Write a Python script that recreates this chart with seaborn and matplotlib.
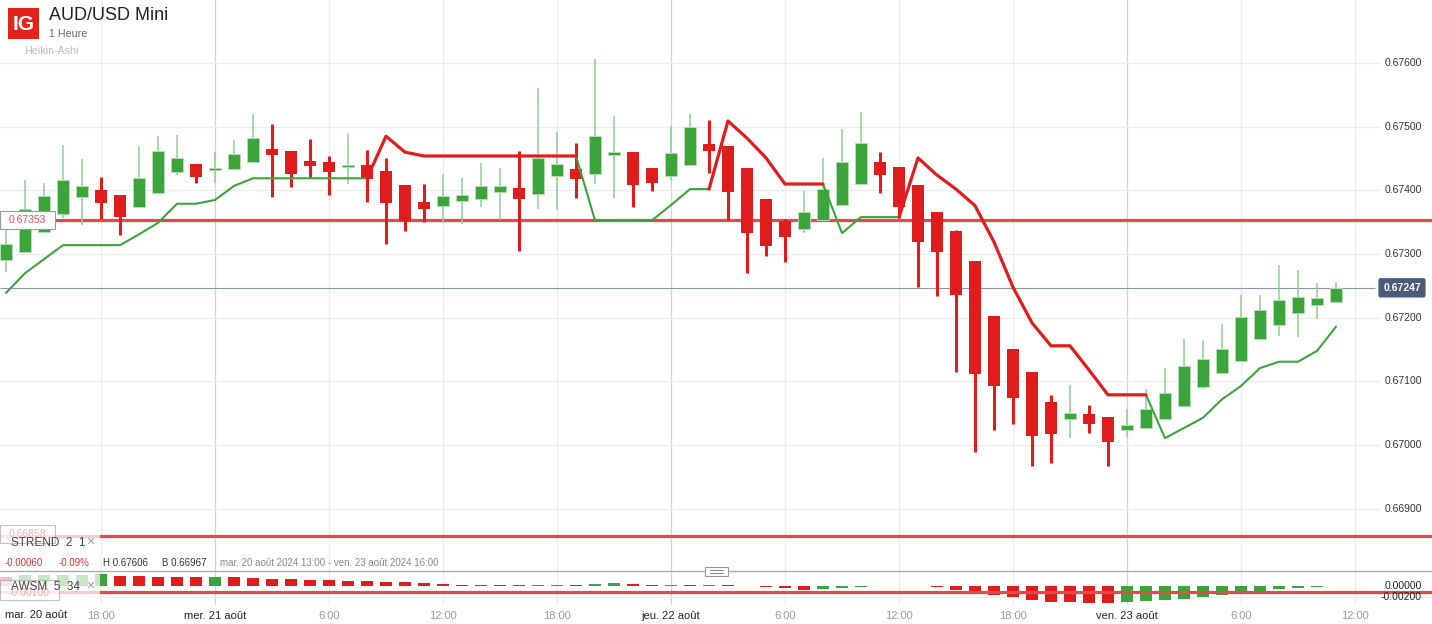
#AUD/USD Mini 1h Heikin-Ashi chart with SuperTrend and Awesome Oscillator
import matplotlib
matplotlib.use("Agg")
import matplotlib.pyplot as plt
import matplotlib.transforms as mtransforms
from matplotlib.patches import Rectangle
import numpy as np
import pandas as pd
import seaborn as sns

#Heikin-Ashi candles, one per hour from mar. 20 août 13:00
ha_open = [0.67291, 0.67303, 0.67335, 0.67363, 0.67390, 0.67401, 0.67393, 0.67374, 0.67396, 0.67429,
           0.67441, 0.67432, 0.67434, 0.67445, 0.67465, 0.67462, 0.67446, 0.67445, 0.67437, 0.67440,
           0.67430, 0.67408, 0.67382, 0.67376, 0.67383, 0.67386, 0.67397, 0.67404, 0.67394, 0.67423,
           0.67434, 0.67426, 0.67456, 0.67460, 0.67435, 0.67423, 0.67440, 0.67473, 0.67470, 0.67435,
           0.67386, 0.67352, 0.67339, 0.67353, 0.67377, 0.67410, 0.67445, 0.67437, 0.67408, 0.67366,
           0.67336, 0.67289, 0.67203, 0.67151, 0.67115, 0.67068, 0.67041, 0.67049, 0.67044, 0.67024,
           0.67027, 0.67041, 0.67061, 0.67091, 0.67113, 0.67132, 0.67167, 0.67189, 0.67208, 0.67220,
           0.67225]
ha_high = [0.67338, 0.67416, 0.67412, 0.67471, 0.67449, 0.67421, 0.67393, 0.67470, 0.67485, 0.67487,
           0.67441, 0.67460, 0.67479, 0.67520, 0.67504, 0.67462, 0.67481, 0.67454, 0.67490, 0.67463,
           0.67451, 0.67408, 0.67410, 0.67426, 0.67419, 0.67443, 0.67435, 0.67462, 0.67561, 0.67492,
           0.67474, 0.67606, 0.67517, 0.67460, 0.67435, 0.67501, 0.67520, 0.67510, 0.67470, 0.67435,
           0.67386, 0.67355, 0.67399, 0.67451, 0.67496, 0.67523, 0.67460, 0.67437, 0.67408, 0.67366,
           0.67338, 0.67289, 0.67203, 0.67151, 0.67115, 0.67079, 0.67094, 0.67063, 0.67044, 0.67057,
           0.67088, 0.67121, 0.67167, 0.67165, 0.67190, 0.67236, 0.67236, 0.67283, 0.67275, 0.67255,
           0.67256]
ha_low = [0.67272, 0.67303, 0.67335, 0.67357, 0.67346, 0.67355, 0.67330, 0.67374, 0.67396, 0.67424,
          0.67412, 0.67412, 0.67434, 0.67445, 0.67390, 0.67405, 0.67421, 0.67393, 0.67410, 0.67382,
          0.67316, 0.67336, 0.67350, 0.67349, 0.67347, 0.67374, 0.67353, 0.67305, 0.67371, 0.67369,
          0.67388, 0.67410, 0.67388, 0.67374, 0.67399, 0.67416, 0.67440, 0.67427, 0.67353, 0.67270,
          0.67297, 0.67288, 0.67333, 0.67353, 0.67377, 0.67410, 0.67396, 0.67357, 0.67248, 0.67234,
          0.67115, 0.66989, 0.67024, 0.67033, 0.66967, 0.66972, 0.67011, 0.67019, 0.66967, 0.67013,
          0.67027, 0.67041, 0.67061, 0.67088, 0.67113, 0.67132, 0.67167, 0.67171, 0.67170, 0.67198,
          0.67225]
ha_close = [0.67316, 0.67371, 0.67391, 0.67416, 0.67407, 0.67380, 0.67358, 0.67419, 0.67462, 0.67451,
            0.67421, 0.67435, 0.67457, 0.67482, 0.67456, 0.67426, 0.67438, 0.67429, 0.67438, 0.67418,
            0.67380, 0.67352, 0.67371, 0.67391, 0.67393, 0.67407, 0.67407, 0.67386, 0.67451, 0.67441,
            0.67418, 0.67485, 0.67460, 0.67408, 0.67412, 0.67459, 0.67500, 0.67462, 0.67397, 0.67333,
            0.67313, 0.67327, 0.67366, 0.67402, 0.67445, 0.67474, 0.67424, 0.67374, 0.67319, 0.67303,
            0.67236, 0.67112, 0.67093, 0.67074, 0.67014, 0.67017, 0.67050, 0.67033, 0.67005, 0.67032,
            0.67057, 0.67082, 0.67124, 0.67135, 0.67151, 0.67201, 0.67212, 0.67228, 0.67233, 0.67231,
            0.67247]

#SuperTrend (2, 1) value and trend side per candle
strend = [0.67239, 0.67270, 0.67292, 0.67314, 0.67314, 0.67314, 0.67314, 0.67331, 0.67349, 0.67379,
          0.67379, 0.67385, 0.67407, 0.67419, 0.67419, 0.67419, 0.67419, 0.67419, 0.67419, 0.67419,
          0.67485, 0.67460, 0.67454, 0.67454, 0.67454, 0.67454, 0.67454, 0.67454, 0.67454, 0.67454,
          0.67454, 0.67353, 0.67353, 0.67353, 0.67353, 0.67377, 0.67402, 0.67402, 0.67509, 0.67482,
          0.67451, 0.67410, 0.67410, 0.67410, 0.67333, 0.67358, 0.67358, 0.67358, 0.67451, 0.67424,
          0.67402, 0.67376, 0.67319, 0.67248, 0.67192, 0.67156, 0.67156, 0.67118, 0.67079, 0.67079,
          0.67079, 0.67011, 0.67027, 0.67043, 0.67072, 0.67093, 0.67121, 0.67131, 0.67131, 0.67148,
          0.67186]
strend_side = ("GGGGGGGGGGGGGGGGGGGG" "RRRRRRRRRRR" "GGGGGGG" "RRRRRR"
               "GGGG" "RRRRRRRRRRRRR" "GGGGGGGGGG")

#Awesome oscillator (5, 34)
awsm = [0.00170, 0.00200, 0.00204, 0.00207, 0.00209, 0.00211, 0.00190, 0.00188, 0.00170, 0.00168,
        0.00165, 0.00166, 0.00155, 0.00145, 0.00136, 0.00127, 0.00118, 0.00109, 0.00100, 0.00091,
        0.00073, 0.00064, 0.00051, 0.00040, 0.00027, 0.00022, 0.00018, 0.00015, 0.00017, 0.00020,
        0.00015, 0.00035, 0.00050, 0.00035, 0.00020, 0.00025, 0.00018, 0.00022, 0.00012, 0.00005,
        -0.00010, -0.00040, -0.00070, -0.00060, -0.00040, -0.00020, -0.00005, 0.00003, -0.00002, -0.00025,
        -0.00080, -0.00120, -0.00160, -0.00200, -0.00255, -0.00290, -0.00295, -0.00300, -0.00305, -0.00295,
        -0.00275, -0.00250, -0.00230, -0.00200, -0.00165, -0.00130, -0.00105, -0.00060, -0.00040, -0.00015,
        -0.00005]

#Levels and axis labels
level_hi = 0.67353
level_lo = 0.66858
awsm_level = -0.00100
last_price = 0.67247
price_ticks = [0.66900, 0.67000, 0.67100, 0.67200, 0.67300, 0.67400, 0.67500, 0.67600]
awsm_ticks = [0.0, -0.002]
start = "2024-08-20 13:00"
jours = ["lun.", "mar.", "mer.", "jeu.", "ven.", "sam.", "dim."]

#Style
sns.set_theme(style="white")
plt.rcParams['font.family'] = ['Liberation Sans', 'DejaVu Sans']
GREEN = '#3ba53b'
RED = '#e01d1d'
LINE_RED = '#e34b4b'

W, H = 1432, 624
def fx(px):
    return px / W
def fy(py):
    return 1 - py / H

fig = plt.figure(figsize=(W / 100, H / 100), dpi=100)
fig.patch.set_facecolor('white')
ax = fig.add_axes([0, fy(571), 1, 571 / H])
ax2 = fig.add_axes([0, fy(605), 1, 34 / H], sharex=ax)

o = np.array(ha_open); c = np.array(ha_close)
hi = np.array(ha_high); lo = np.array(ha_low)
x = np.arange(len(o))
up = c >= o

x_left, x_right = -6 / 19, (W - 6) / 19
grid_end = (1380 - 6) / 19

#Time grid
hours = pd.date_range(start, periods=76, freq="h")
tick_pos, tick_lab, tick_day = [], [], []
for i, h in enumerate(hours):
    if i > 0 and h.hour % 6 == 0:
        tick_pos.append(i)
        if h.hour == 0:
            tick_lab.append(f"{jours[h.dayofweek]} {h.day} août")
            tick_day.append(True)
        else:
            tick_lab.append(f"{h.hour}:00")
            tick_day.append(False)
for a in (ax, ax2):
    for t, d in zip(tick_pos, tick_day):
        a.axvline(t, color='#d2d2d2' if d else '#ececec', lw=0.9, zorder=0)

#Price grid
ax.hlines(price_ticks, x_left, grid_end, color='#ececec', lw=0.9, zorder=0)

#Levels
ax.hlines([level_hi, level_lo], x_left, x_right, color=LINE_RED, lw=2.3, zorder=2)
ax.hlines(last_price, x_left, (1375 - 6) / 19, color='#8e97a8', lw=0.8, zorder=2)

#Candles
ax.vlines(x[up], lo[up], hi[up], color='#8fd08f', lw=1.1, zorder=3)
ax.vlines(x[~up], lo[~up], hi[~up], color=RED, lw=2.2, zorder=3)
body_bot = np.minimum(o, c)
body_h = np.maximum(np.abs(c - o), 0.00003)
ax.bar(x[up], body_h[up], bottom=body_bot[up], width=0.68, color=GREEN,
       edgecolor='#b4deb4', linewidth=0.7, zorder=4)
ax.bar(x[~up], body_h[~up], bottom=body_bot[~up], width=0.68, color=RED,
       linewidth=0, zorder=4)

#SuperTrend line, one run per trend side
rows = []
seg = 0
for i in range(len(strend)):
    if i > 0 and strend_side[i] != strend_side[i - 1]:
        seg += 1
        rows.append((i - 1, strend[i - 1], strend_side[i], seg))
    rows.append((i, strend[i], strend_side[i], seg))
st_df = pd.DataFrame(rows, columns=['i', 'st', 'side', 'seg'])
sns.lineplot(data=st_df, x='i', y='st', hue='side', size='side', units='seg',
             estimator=None, sort=False, legend=False, ax=ax,
             palette={'G': GREEN, 'R': RED}, sizes={'G': 1.5, 'R': 2.3}, zorder=5)
ax.set_xlabel(''); ax.set_ylabel('')

ax.set_xlim(x_left, x_right)
ax.set_ylim(0.676989 - 571 * 0.0000157, 0.676989)
ax.set_yticks([])
ax.tick_params(bottom=False, labelbottom=False, top=False, labeltop=False, left=False)
for s in ax.spines.values():
    s.set_visible(False)

ytrans = mtransforms.blended_transform_factory(ax.transAxes, ax.transData)
for p in price_ticks:
    ax.text(fx(1422), p, f"{p:.5f}", transform=ytrans, ha='right', va='center',
            fontsize=7.5, color='#333333', zorder=6)
ax.text(fx(1402), last_price, f"{last_price:.5f}", transform=ytrans, ha='center', va='center',
        fontsize=7.5, color='white', fontweight='bold', zorder=7,
        bbox=dict(boxstyle='round,pad=0.45,rounding_size=0.2', fc='#4a5a79', ec='none'))

#Awesome oscillator panel
ao = np.array(awsm)
ao_col = [RED if i == 0 or ao[i] <= ao[i - 1] else GREEN for i in range(len(ao))]
ax2.axhline(-0.002, color='#ececec', lw=0.9, zorder=0)
ax2.bar(x, ao, width=0.68, color=ao_col, linewidth=0, zorder=3)
ax2.axhline(awsm_level, color=LINE_RED, lw=2.3, zorder=4)
ax2.set_ylim(-19 / 5.5 * 0.001, 15 / 5.5 * 0.001)
ax2.set_yticks([])
for name, s in ax2.spines.items():
    s.set_visible(name == 'top')
ax2.spines['top'].set_color('#aaaaaa')
ax2.spines['top'].set_linewidth(1.0)
ytrans2 = mtransforms.blended_transform_factory(ax2.transAxes, ax2.transData)
for v in awsm_ticks:
    ax2.text(fx(1422), v, f"{v:.5f}", transform=ytrans2, ha='right', va='center',
             fontsize=7.5, color='#222222', zorder=6)

ax2.set_xticks(tick_pos)
ax2.set_xticklabels(tick_lab, fontsize=8)
ax2.xaxis.set_ticks_position('bottom')
ax2.tick_params(axis='x', length=0, pad=4, labelbottom=True, labeltop=False)
for lab, d in zip(ax2.get_xticklabels(), tick_day):
    lab.set_color('#222222' if d else '#999999')
ax2.set_xlim(x_left, x_right)
fig.text(fx(5), fy(609.5), f"{jours[hours[0].dayofweek]} {hours[0].day} août", ha='left', va='top',
         fontsize=8, color='#222222')

#Header
fig.add_artist(Rectangle((fx(8), fy(39)), fx(31), 31 / H, transform=fig.transFigure,
                         fc='#e2231a', ec='none', zorder=10))
fig.text(fx(23.5), fy(24), "IG", ha='center', va='center', fontsize=15, color='white',
         fontweight='bold', zorder=11)
fig.text(fx(49), fy(16), "AUD/USD Mini", ha='left', va='center', fontsize=13, color='#222222')
fig.text(fx(49), fy(34), "1 Heure", ha='left', va='center', fontsize=7.7, color='#666666')
fig.text(fx(24), fy(51), "Heikin-Ashi", ha='left', va='center', fontsize=7.7, color='#bbbbbb')

#Level tags on the left
fig.add_artist(Rectangle((0, fy(229)), fx(55), 18 / H, transform=fig.transFigure,
                         fc='white', ec='#9a9a9a', lw=0.8, zorder=10))
fig.text(fx(27.5), fy(220), f"{level_hi:.5f}", ha='center', va='center', fontsize=7.5,
         color='#d85555', zorder=11)

#Legend rows with translucent backing
fig.add_artist(Rectangle((0, fy(549)), fx(100), 24 / H, transform=fig.transFigure,
                         fc='white', alpha=0.72, ec='none', zorder=10))
fig.add_artist(Rectangle((0, fy(543)), fx(55), 18 / H, transform=fig.transFigure,
                         fc='white', alpha=0.6, ec='#9a9a9a', lw=0.8, zorder=11))
fig.text(fx(27.5), fy(534), f"{level_lo:.5f}", ha='center', va='center', fontsize=7.5,
         color='#f3b0b0', zorder=12)
fig.text(fx(11), fy(543), "STREND  2  1", ha='left', va='center', fontsize=8.5,
         color='#444444', zorder=13)
fig.text(fx(86), fy(542), "×", ha='left', va='center', fontsize=10, color='#9a9a9a', zorder=13)

fig.text(fx(5), fy(563), "-0.00060", ha='left', va='center', fontsize=7, color='#e03030')
fig.text(fx(59), fy(563), "-0.09%", ha='left', va='center', fontsize=7, color='#e03030')
fig.text(fx(103), fy(563), f"H {max(ha_high):.5f}", ha='left', va='center', fontsize=7, color='#333333')
fig.text(fx(162), fy(563), f"B {min(ha_low):.5f}", ha='left', va='center', fontsize=7, color='#333333')
fig.text(fx(220), fy(563), "mar. 20 août 2024 13:00 - ven. 23 août 2024 16:00", ha='left',
         va='center', fontsize=7, color='#888888')

fig.add_artist(Rectangle((0, fy(600)), fx(100), 27 / H, transform=fig.transFigure,
                         fc='white', alpha=0.72, ec='none', zorder=10))
fig.add_artist(Rectangle((0, fy(600)), fx(59), 20 / H, transform=fig.transFigure,
                         fc='white', alpha=0.6, ec='#9a9a9a', lw=0.8, zorder=11))
fig.text(fx(29), fy(593), f"{awsm_level:.5f}", ha='center', va='center', fontsize=7.5,
         color='#f3b0b0', zorder=12)
fig.text(fx(11), fy(587), "AWSM  5  34", ha='left', va='center', fontsize=8.5,
         color='#444444', zorder=13)
fig.text(fx(86), fy(586), "×", ha='left', va='center', fontsize=10, color='#9a9a9a', zorder=13)

#Panel resize handle
fig.add_artist(Rectangle((fx(705), fy(576)), fx(23), 9 / H, transform=fig.transFigure,
                         fc='white', ec='#999999', lw=0.8, zorder=10))
for yy in (570, 573):
    fig.add_artist(plt.Line2D([fx(710), fx(723)], [fy(yy), fy(yy)], transform=fig.transFigure,
                              color='#888888', lw=0.8, zorder=11))

fig.savefig('out.png', dpi=100)
